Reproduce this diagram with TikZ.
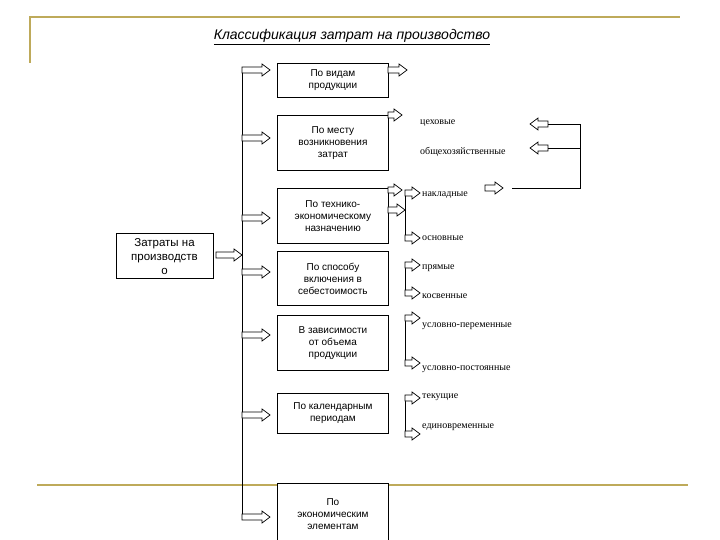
\documentclass[tikz,border=0pt]{standalone}
\usepackage{fontspec}
\setmainfont{Liberation Sans}
\newfontfamily\serifru{Liberation Serif}
\begin{document}
\begin{tikzpicture}[x=1pt,y=-1pt,
  box/.style={draw,thick,fill=white,minimum width=111pt,align=center,font=\fontsize{10}{12}\selectfont,inner sep=1pt},
  lbl/.style={anchor=west,inner sep=0pt,font=\serifru\fontsize{10}{12}\selectfont},
  gold/.style={line width=2pt,color={rgb,255:red,190;green,170;blue,90}},
  ln/.style={line width=0.8pt}]
\useasboundingbox (0,0) rectangle (720,540);
\newcommand{\harr}[3]{% start coordinate, length, direction (1 or -1)
  \draw[line width=0.7pt,fill=white] #1 -- ++(0,-3) -- ++({#3*(#2-8)},0) -- ++(0,-3) -- ++({#3*8},6) -- ++({-1*#3*8},6) -- ++(0,-3) -- ++({-1*#3*(#2-8)},0) -- cycle;}
% frame
\draw[gold] (30,63) -- (30,17) -- (680,17);
\draw[gold] (37,485) -- (688,485);
\node[font=\itshape\fontsize{14}{16}\selectfont] (title) at (352,37) {\underline{Классификация затрат на производство}};
% left box
\node[draw,thick,fill=white,minimum width=97pt,minimum height=45pt,anchor=north west] (src) at (116,233) {};
\node[align=center,anchor=north,font=\fontsize{11.5}{14}\selectfont,inner sep=0pt] (srct) at (164.5,238) {Затраты на\\производств\\о};
% main vertical
\draw[ln] (242,70) coordinate (vt) -- (242,520) coordinate (vb);
\harr{(216,255)}{26}{1}
% category boxes
\node[box,minimum height=34pt,anchor=north west] (b1) at (277,63) {По видам\\продукции};
\node[box,minimum height=55pt,anchor=north west] (b2) at (277,115) {По месту\\возникновения\\затрат};
\node[box,minimum height=55pt,anchor=north west] (b3) at (277,188) {По технико-\\экономическому\\назначению};
\node[box,minimum height=54pt,anchor=north west] (b4) at (277,251) {По способу\\включения в\\себестоимость};
\node[box,minimum height=55pt,anchor=north west] (b5) at (277,315) {В зависимости\\от объема\\продукции};
\node[box,minimum height=40pt,anchor=north west] (b6) at (277,393) {По календарным\\периодам};
\node[box,minimum height=62pt,anchor=north west,align=center] (b7) at (277,483) {По\\экономическим\\элементам};
\foreach \y in {70,138,218,272,335,415,517}{\harr{(242,\y)}{28}{1}}
% right side
\harr{(388,70)}{19}{1}
\harr{(388,115)}{14}{1}
\harr{(388,190)}{14}{1}
\harr{(388,210)}{17}{1}
\node[lbl] (c1) at (420,123) {цеховые};
\node[lbl] (c2) at (420,152) {общехозяйственные};
\node[lbl] (n1) at (422,195) {накладные};
\node[lbl] (n2) at (422,238) {основные};
\node[lbl] (p1) at (422,268) {прямые};
\node[lbl] (p2) at (422,296) {косвенные};
\node[lbl] (u1) at (422,326) {условно-переменные};
\node[lbl] (u2) at (422,369) {условно-постоянные};
\node[lbl] (t1) at (422,397) {текущие};
\node[lbl] (t2) at (422,427) {единовременные};
\draw[ln] (405,193) -- (405,238);
\harr{(405,193)}{15}{1}\harr{(405,238)}{15}{1}
\draw[ln] (405,265) -- (405,293);
\harr{(405,265)}{15}{1}\harr{(405,293)}{15}{1}
\draw[ln] (405,318) -- (405,363);
\harr{(405,318)}{15}{1}\harr{(405,363)}{15}{1}
\draw[ln] (405,398) -- (405,434);
\harr{(405,398)}{15}{1}\harr{(405,434)}{15}{1}
\harr{(485,188)}{18}{1}
\harr{(548,124)}{18}{-1}
\harr{(548,148)}{18}{-1}
\draw[ln] (548,124) -- (580,124) -- (580,188) -- (512,188);
\draw[ln] (548,148) -- (580,148);
\end{tikzpicture}
\end{document}
